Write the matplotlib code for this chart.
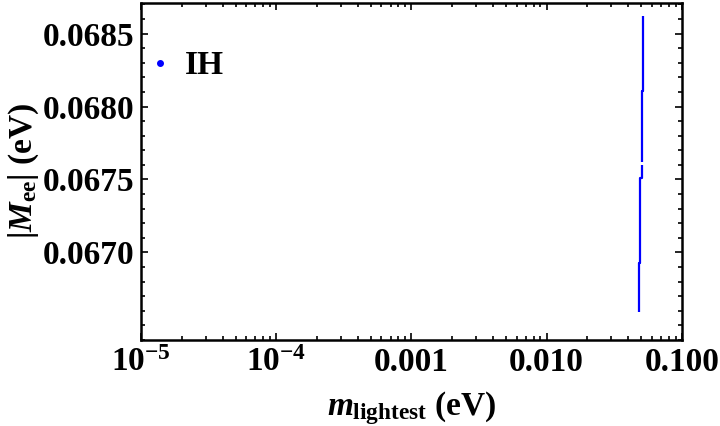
import matplotlib.pyplot as plt
import numpy as np
from matplotlib.ticker import FixedLocator, MultipleLocator, LogLocator, NullFormatter

plt.rcParams['font.family'] = 'Liberation Serif'
plt.rcParams['font.weight'] = 'bold'
plt.rcParams['axes.labelweight'] = 'bold'
plt.rcParams['mathtext.fontset'] = 'custom'
plt.rcParams['mathtext.rm'] = 'Liberation Serif:bold'
plt.rcParams['mathtext.it'] = 'Liberation Serif:bold:italic'
plt.rcParams['mathtext.bf'] = 'Liberation Serif:bold'

# IH band (m_lightest, |M_ee|), nan = small gap
m_light = [0.0512, 0.0512, 0.0506, 0.0506, np.nan, 0.0506, 0.0506, 0.04945, 0.04945, 0.04856, 0.04856]
m_ee = [0.06862, 0.06811, 0.06811, 0.06762, np.nan, 0.06760, 0.06751, 0.06751, 0.06693, 0.06693, 0.06659]

xticks = [1e-5, 1e-4, 1e-3, 1e-2, 1e-1]
xlabels = [r'$10^{-5}$', r'$10^{-4}$', '0.001', '0.010', '0.100']
yticks = [0.0670, 0.0675, 0.0680, 0.0685]

fig = plt.figure(figsize=(7.2, 4.26), dpi=100)
ax = fig.add_axes([0.196, 0.202, 0.751, 0.791])

ax.plot(m_light, m_ee, color='#0000ff', lw=1.6, solid_capstyle='butt')
ax.plot([], [], 'o', color='#0000ff', ms=4, label='IH')

ax.set_xscale('log')
ax.set_xlim(1e-5, 0.1)
ax.set_ylim(0.06640, 0.06871)

ax.xaxis.set_major_locator(FixedLocator(xticks))
ax.set_xticklabels(xlabels)
ax.xaxis.set_minor_locator(LogLocator(base=10, subs=np.arange(2, 10)))
ax.xaxis.set_minor_formatter(NullFormatter())
ax.yaxis.set_major_locator(FixedLocator(yticks))
ax.set_yticklabels(['%.4f' % v for v in yticks])
ax.yaxis.set_minor_locator(MultipleLocator(0.0001))

ax.tick_params(which='both', direction='in', top=True, right=True, labelsize=24, width=1.2)
ax.tick_params(which='major', length=5, pad=5)
ax.tick_params(which='minor', length=3)
for s in ax.spines.values():
    s.set_linewidth(1.8)

ax.set_xlabel(r'$m_{\rm lightest}$ (eV)', fontsize=24, labelpad=8)
ax.set_ylabel(r'$|M_{\rm ee}|$ (eV)', fontsize=24, labelpad=1)

ax.legend(loc='center left', bbox_to_anchor=(0.017, 0.813), frameon=False, fontsize=24,
          handlelength=0.6, handletextpad=0.45, borderaxespad=0, borderpad=0)

fig.savefig('out.png', dpi=100)
